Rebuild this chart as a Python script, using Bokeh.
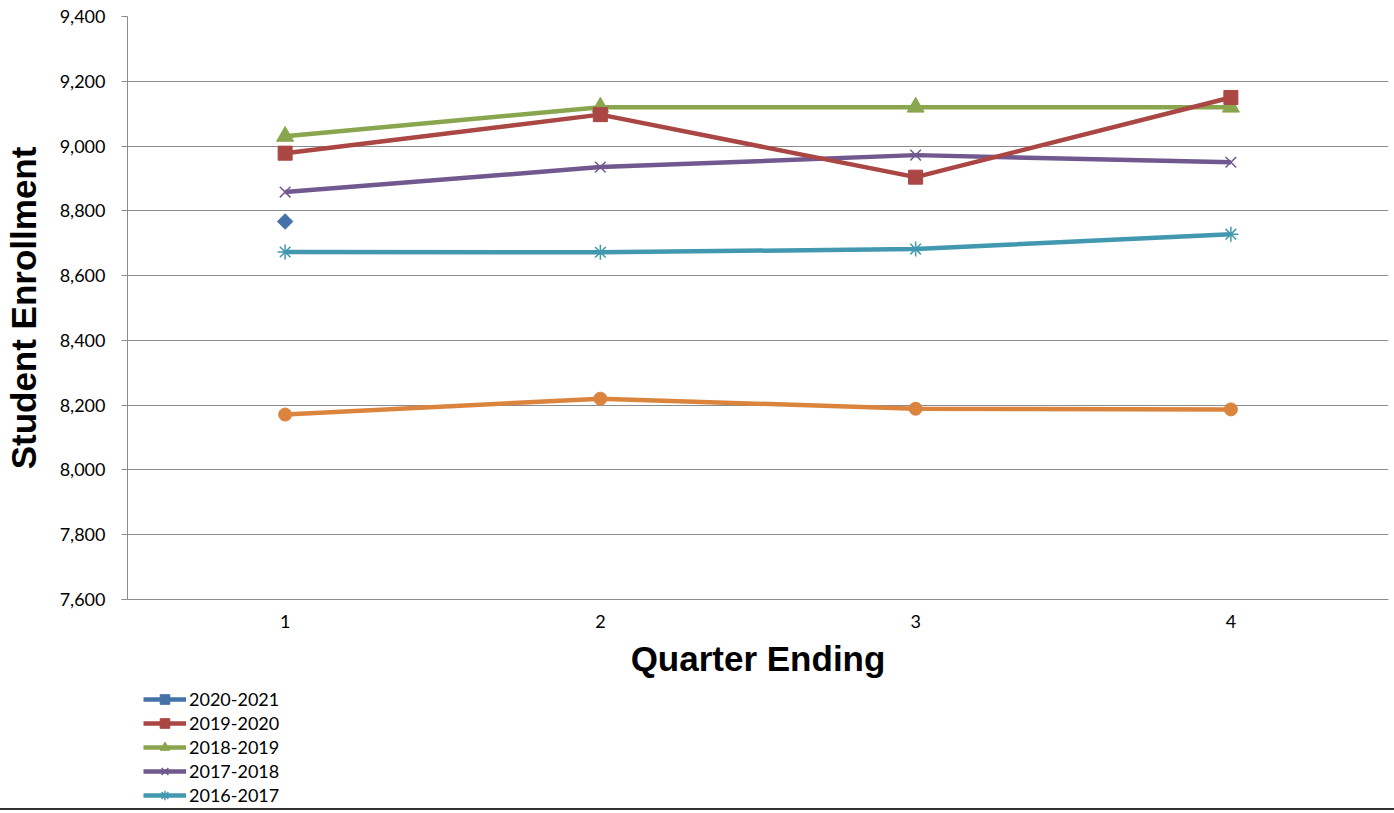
import math
from bokeh.plotting import figure
from bokeh.models import FactorRange, Range1d, Legend, LegendItem, NumeralTickFormatter, FixedTicker
from bokeh.layouts import column
from bokeh.embed import file_html
from bokeh.resources import INLINE

quarters = ["1", "2", "3", "4"]
s2020_2021 = [8767]
s2019_2020 = [8978, 9097, 8904, 9150]
s2018_2019 = [9030, 9120, 9120, 9120]
s2017_2018 = [8858, 8935, 8972, 8950]
s2016_2017 = [8673, 8672, 8682, 8728]
s_other = [8171, 8220, 8189, 8187]
y_ticks = [7600, 7800, 8000, 8200, 8400, 8600, 8800, 9000, 9200, 9400]
legend_labels = ["2020-2021", "2019-2020", "2018-2019", "2017-2018", "2016-2017"]

C_BLUE = "#4572A7"
C_RED = "#AA4643"
C_GREEN = "#89A54E"
C_PURPLE = "#71588F"
C_TEAL = "#4198AF"
C_ORANGE = "#DB843D"

LW = 4.5

series = {
    "2020-2021": (quarters[:1], s2020_2021),
    "2019-2020": (quarters, s2019_2020),
    "2018-2019": (quarters, s2018_2019),
    "2017-2018": (quarters, s2017_2018),
    "2016-2017": (quarters, s2016_2017),
}

# style for each series: (color, marker, size, angle, filled)
styles = {
    "2020-2021": (C_BLUE, "square", 11, math.pi / 4, True),
    "2019-2020": (C_RED, "square", 14, 0, True),
    "2018-2019": (C_GREEN, "triangle", 17, 0, True),
    "2017-2018": (C_PURPLE, "x", 15, 0, False),
    "2016-2017": (C_TEAL, "asterisk", 15, 0, False),
}

p = figure(width=1394, height=680, x_range=FactorRange(*quarters, range_padding=0),
           y_range=Range1d(7600, 9400), output_backend="svg", toolbar_location=None,
           min_border_left=124, min_border_right=6, min_border_top=16, min_border_bottom=80)
p.outline_line_color = None


def draw(fig, label):
    xs, ys = series[label]
    color, marker, size, angle, filled = styles[label]
    rl = fig.line(xs, ys, color=color, line_width=LW)
    if filled:
        rm = fig.scatter(xs, ys, marker=marker, size=size, angle=angle, color=color)
    else:
        rm = fig.scatter(xs, ys, marker=marker, size=size, line_color=color, line_width=1.5)
    return rl, rm


# orange (not in legend)
p.line(quarters, s_other, color=C_ORANGE, line_width=LW)
p.scatter(quarters, s_other, marker="circle", size=13, color=C_ORANGE)

for lab in reversed(legend_labels):
    draw(p, lab)

# axes
p.yaxis.ticker = FixedTicker(ticks=y_ticks)
p.yaxis.formatter = NumeralTickFormatter(format="0,0")
p.yaxis.major_tick_out = 6
p.yaxis.major_tick_in = 0
p.yaxis.minor_tick_out = 0
p.yaxis.minor_tick_in = 0
p.yaxis.major_tick_line_color = "#8c8c8c"
p.yaxis.axis_line_color = "#8c8c8c"
p.yaxis.major_label_standoff = 16
p.yaxis.major_label_text_font = "Lato"
p.yaxis.major_label_text_font_size = "18px"
p.yaxis.major_label_text_color = "#000000"
p.yaxis.axis_label = "Student Enrollment"
p.yaxis.axis_label_text_font = "Liberation Sans"
p.yaxis.axis_label_text_font_style = "bold"
p.yaxis.axis_label_text_font_size = "35px"
p.yaxis.axis_label_text_color = "#000000"
p.yaxis.axis_label_standoff = 14

p.xaxis.major_tick_out = 0
p.xaxis.major_tick_in = 0
p.xaxis.axis_line_color = "#8c8c8c"
p.xaxis.major_label_standoff = 15
p.xaxis.major_label_text_font = "Lato"
p.xaxis.major_label_text_font_size = "18px"
p.xaxis.major_label_text_color = "#000000"
p.xaxis.axis_label = "Quarter Ending"
p.xaxis.axis_label_text_font = "Liberation Sans"
p.xaxis.axis_label_text_font_style = "bold"
p.xaxis.axis_label_text_font_size = "35px"
p.xaxis.axis_label_text_color = "#000000"
p.xaxis.axis_label_standoff = 8

p.xgrid.grid_line_color = None
p.ygrid.grid_line_color = "#8c8c8c"
p.ygrid.grid_line_width = 1
p.ygrid.ticker = FixedTicker(ticks=y_ticks)

# legend panel (series drawn out of view, only legend visible)
p2 = figure(width=1394, height=130, x_range=FactorRange(*quarters, range_padding=0),
            y_range=Range1d(0, 1), output_backend="svg", toolbar_location=None,
            min_border_left=124, min_border_right=6, min_border_top=0, min_border_bottom=2)
p2.axis.visible = False
p2.grid.visible = False
p2.outline_line_color = None
p2.styles = {"border-bottom": "2px solid #333333", "box-sizing": "border-box"}

items = []
for lab in legend_labels:
    rl, rm = draw(p2, lab)
    items.append(LegendItem(label=lab, renderers=[rl, rm]))

legend = Legend(items=items, location=(16, 1))
legend.glyph_width = 43
legend.glyph_height = 24
legend.label_height = 24
legend.spacing = 0
legend.padding = 0
legend.margin = 0
legend.label_standoff = 3
legend.border_line_color = None
legend.background_fill_alpha = 0
legend.label_text_font = "Lato"
legend.label_text_font_size = "18px"
legend.label_text_color = "#000000"
p2.add_layout(legend, "center")

lay = column(p, p2, spacing=0)

open("out.html", "w").write(file_html(lay, INLINE))
